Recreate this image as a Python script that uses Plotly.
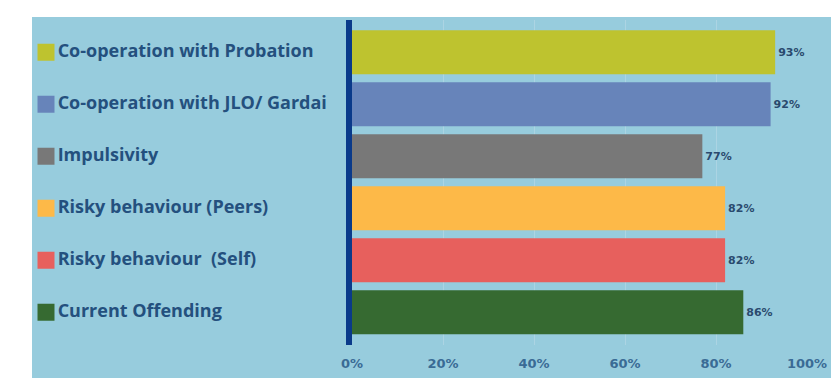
import plotly.graph_objects as go

categories = [
    "Co-operation with Probation",
    "Co-operation with JLO/ Gardai",
    "Impulsivity",
    "Risky behaviour (Peers)",
    "Risky behaviour\u00a0 (Self)",
    "Current Offending",
]
values = [0.93, 0.92, 0.77, 0.82, 0.82, 0.86]
value_labels = ["93%", "92%", "77%", "82%", "82%", "86%"]
colors = ["#BEC32F", "#6784BA", "#787878", "#FDB948", "#E7605D", "#366A31"]
tick_vals = [0, 0.2, 0.4, 0.6, 0.8, 1.0]
tick_text = ["0%", "20%", "40%", "60%", "80%", "100%"]

# the page body adds an 8px margin; size the figure so it fills the window
OFF = 8
W, H = 839 - OFF, 378 - OFF
PANEL = "#97CCDD"
TEXT = "#24507E"

left_px, right_px = 352 - OFF, 807 - OFF
top_px, bottom_px = 20 - OFF, 345 - OFF
plot_h = bottom_px - top_px

fig = go.Figure()

fig.add_trace(go.Bar(
    y=categories, x=values, orientation="h",
    marker=dict(color=colors, line=dict(width=0)),
    text=["<b>" + t + "</b>" for t in value_labels], textposition="outside",
    textfont=dict(family="DejaVu Sans", size=11, color="#2A4A6E"),
    cliponaxis=False, showlegend=False, hoverinfo="skip",
    xaxis="x", yaxis="y",
))

# legend-like category labels with coloured squares on the left
fig.add_trace(go.Scatter(
    y=categories, x=[46] * len(categories), mode="markers+text",
    marker=dict(symbol="square", size=17, color=colors),
    text=["<b>" + c + "</b>" for c in categories], textposition="middle right",
    textfont=dict(family="Open Sans", size=18, color=TEXT),
    cliponaxis=False, showlegend=False, hoverinfo="skip",
    xaxis="x2", yaxis="y",
))

fig.update_layout(
    width=W, height=H,
    margin=dict(l=0, r=0, t=top_px, b=H - bottom_px),
    paper_bgcolor="white",
    plot_bgcolor="rgba(0,0,0,0)",
    bargap=0.15,
    xaxis=dict(
        domain=[left_px / W, right_px / W], range=[0, 1],
        tickvals=tick_vals, ticktext=["<b>" + t + "</b>" for t in tick_text],
        tickfont=dict(family="DejaVu Sans", size=13, color="#3A6B95"),
        showgrid=True, gridcolor="rgba(172,212,227,1)", gridwidth=1,
        zeroline=False, showline=False, ticks="", ticklabelstandoff=9,
        anchor="y", automargin=False,
    ),
    xaxis2=dict(
        domain=[0, left_px / W], range=[OFF, left_px + OFF],
        visible=False, anchor="y", automargin=False,
    ),
    yaxis=dict(
        range=[5.63, -0.62], showticklabels=False, showgrid=False,
        zeroline=False, showline=True, linecolor="#0A3A8A", linewidth=6,
        ticks="", anchor="x", automargin=False,
    ),
    shapes=[
        dict(type="rect", xref="paper", yref="paper", layer="below",
             x0=(32 - OFF) / W, x1=(832 - OFF) / W,
             y0=-(H - bottom_px) / plot_h, y1=1 + (top_px - (17 - OFF)) / plot_h,
             fillcolor=PANEL, line=dict(width=0)),
    ],
)

fig.write_html("out.html")
